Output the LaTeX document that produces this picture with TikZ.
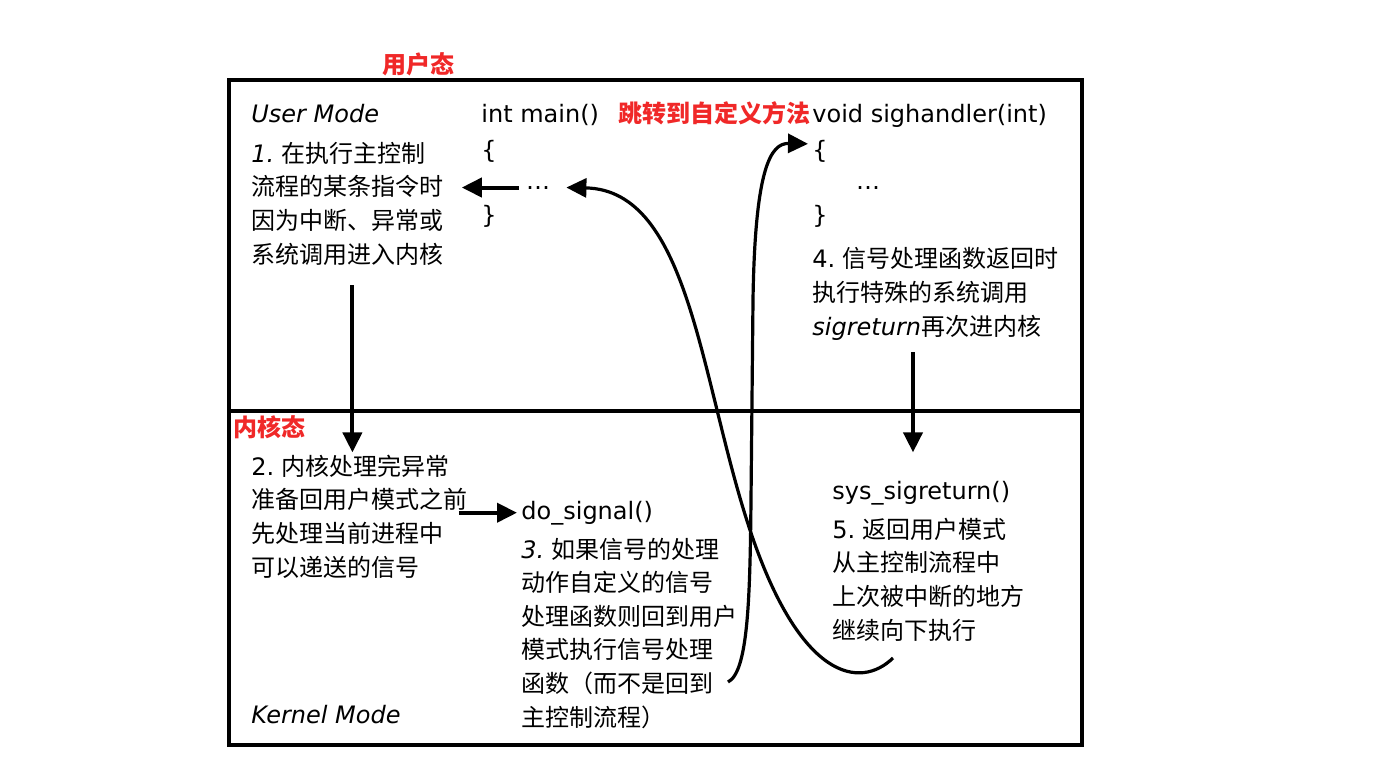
\documentclass[tikz,border=0pt]{standalone}
\usepackage{fontspec}
\setmainfont{DejaVu Sans}
\newfontfamily\cjk{Noto Sans CJK SC}
\usepackage{tikz}
\usetikzlibrary{arrows.meta}
\definecolor{sigred}{HTML}{F02828}

\begin{document}
\begin{tikzpicture}[
  x=0.5pt,y=-0.5pt,
  font=\fontsize{12}{16.8}\selectfont,
  txt/.style={inner sep=0pt,anchor=base west},
  zh/.style={txt,align=left,font=\cjk\fontsize{12}{16.8}\selectfont},
  redlbl/.style={inner sep=0pt,text=sigred,font=\cjk\bfseries\fontsize{12}{14}\selectfont},
  frame/.style={line width=2pt},
  arr/.style={-{Triangle[length=10pt,width=9.5pt]},line width=2pt},
  curvearr/.style={arr,line width=1.6pt}
]
\useasboundingbox (0,0) rectangle (1388,777);
% frame and mode divider
\draw[frame] (229,80) rectangle (1082,745);
\draw[frame] (229,411) -- (1082,411);

% red labels
\node[redlbl] (lbuser) at (418,64) {用户态};
\node[redlbl,anchor=west] (lbkernel) at (233,427) {内核态};
\node[redlbl,anchor=base east] (jump) at (811,122) {跳转到自定义方法};

% user mode (multi-line nodes sit on the baseline of their last line)
\node[txt,font=\itshape\fontsize{12}{14}\selectfont] (usermode) at (251,122) {User Mode};
\node[txt] (mainhdr) at (481,122) {int main()};
\node[txt] (mlb) at (481,158) {\{};
\node[txt,anchor=base] (mdots) at (538,189) {\ldots};
\node[txt] (mrb) at (481,223) {\}};
\node[txt] (sighdr) at (812,122) {void sighandler(int)};
\node[txt] (hlb) at (812,158) {\{};
\node[txt,anchor=base] (hdots) at (868,189) {\ldots};
\node[txt] (hrb) at (812,223) {\}};
\node[zh] (s1) at (251,263) {\textrm{\itshape 1.} 在执行主控制\\流程的某条指令时\\因为中断、异常或\\系统调用进入内核};
\node[zh] (s4) at (812,335) {\textrm{4.} 信号处理函数返回时\\执行特殊的系统调用\\\textrm{\itshape sigreturn}再次进内核};

% kernel mode
\node[zh] (s2) at (251,576) {\textrm{2.} 内核处理完异常\\准备回用户模式之前\\先处理当前进程中\\可以递送的信号};
\node[txt] (dosig) at (521,519) {do\_signal()};
\node[zh] (s3) at (521,726) {\textrm{\itshape 3.} 如果信号的处理\\动作自定义的信号\\处理函数则回到用户\\模式执行信号处理\\函数（而不是回到\\主控制流程）};
\node[txt] (sysret) at (832,499) {sys\_sigreturn()};
\node[zh] (s5) at (832,639) {\textrm{5.} 返回用户模式\\从主控制流程中\\上次被中断的地方\\继续向下执行};
\node[txt,font=\itshape\fontsize{12}{14}\selectfont] (kernelmode) at (251,723) {Kernel Mode};

\coordinate (c1) at (893,658);
\coordinate (c2) at (728,682);

% arrows
\draw[arr] ([xshift=-3.5pt]mdots.west) -- ([xshift=9pt]mdots.west -| s1.east);
\draw[arr] ([xshift=2.5pt,yshift=-10pt]s1.south) -- ([xshift=2.5pt,yshift=1pt]s1.south |- s2.north);
\draw[arr] ([xshift=-4.5pt]dosig.west -| s2.east) -- ([xshift=-2pt]dosig.west);
\draw[arr] ([xshift=50.5pt,yshift=-6pt]s4.south west) -- ([xshift=50.5pt,yshift=14pt]s4.south west |- sysret.north);
\draw[curvearr] (c1) .. controls (860,690) and (800,680) .. (750,530)
  .. controls (700,380) and (690,190) .. ([xshift=8pt]mdots.east);
\draw[curvearr] (c2) .. controls (748,672) and (750,600) .. (751,500) -- (753,300)
  .. controls (755,170) and (770,143) .. ([xshift=-2pt,yshift=3.5pt]hlb.west);
\end{tikzpicture}
\end{document}
